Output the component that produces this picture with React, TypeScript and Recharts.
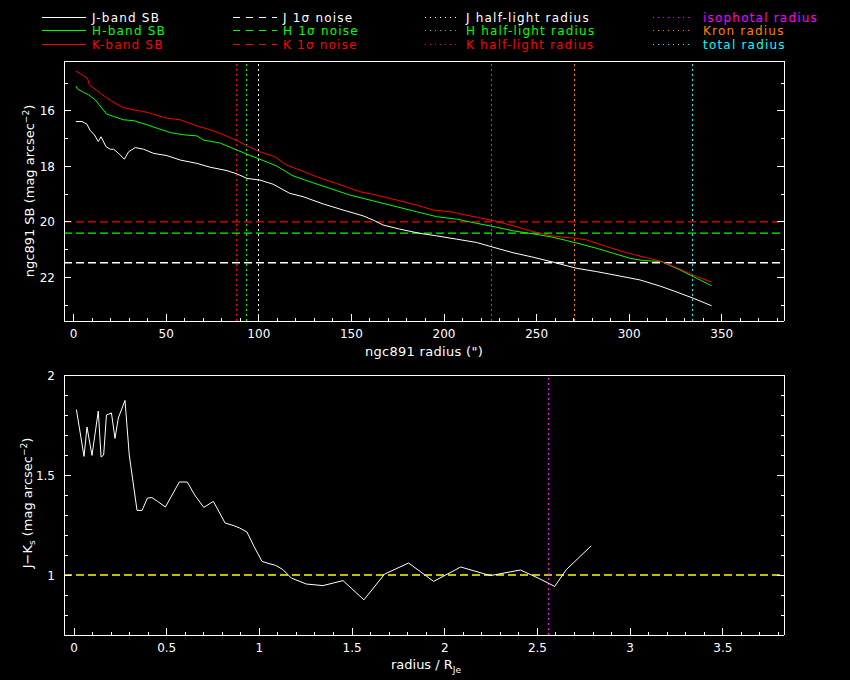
import React from "react";
import { LineChart, Line, XAxis, YAxis, ReferenceLine } from "recharts";

// J, H, K surface brightness profiles (radius in arcsec, mag/arcsec^2)
const jRadius = [1.2, 4.5, 7.2, 9, 11.2, 13.3, 14.8, 17.5, 19.8, 21.6, 24.3, 27.4, 29.7, 33.3, 37.8, 43.2, 50.4, 57.6, 66.6, 73.8, 82.8, 88.2, 93.6, 100.5, 107.7, 116.7, 123.9, 134.7, 145.5, 156.3, 161.7, 167.1, 176.1, 186.9, 195.9, 206.8, 217.6, 226.5, 237.3, 248.1, 258.9, 271.6, 282.4, 295, 305.8, 316.6, 323.8, 334.6, 344.5];
const jSB = [16.38, 16.38, 16.48, 16.71, 16.86, 17.1, 16.93, 17.29, 17.38, 17.38, 17.53, 17.74, 17.47, 17.32, 17.38, 17.53, 17.61, 17.77, 17.89, 18.03, 18.15, 18.27, 18.43, 18.49, 18.64, 18.97, 19.09, 19.35, 19.57, 19.78, 19.93, 20.11, 20.26, 20.41, 20.5, 20.62, 20.74, 20.91, 21.11, 21.27, 21.45, 21.67, 21.79, 21.95, 22.09, 22.31, 22.48, 22.75, 23.02];

const hRadius = [1.2, 2.1, 5.4, 8.1, 11.7, 15.3, 17.7, 21.6, 27, 32.4, 39.6, 45, 52.2, 59.4, 66.6, 70.2, 79.2, 88.2, 93.6, 100.5, 109.5, 118.5, 127.5, 138.3, 149.1, 161.7, 172.5, 185.1, 196, 206.8, 217.6, 228.4, 237.3, 248.1, 257.2, 266.2, 273.4, 282.4, 291.4, 300.4, 307.6, 317.5, 327.4, 336.4, 344.5];
const hSB = [15.1, 15.21, 15.33, 15.42, 15.6, 15.9, 16.11, 16.2, 16.32, 16.35, 16.5, 16.62, 16.78, 16.86, 16.9, 17.05, 17.16, 17.41, 17.56, 17.74, 17.98, 18.34, 18.55, 18.79, 19.03, 19.24, 19.42, 19.63, 19.81, 19.9, 20.05, 20.19, 20.32, 20.43, 20.53, 20.67, 20.79, 20.95, 21.13, 21.31, 21.39, 21.43, 21.73, 22.03, 22.3];

const kRadius = [1.2, 4.5, 6.6, 7.5, 8.5, 11.7, 14.4, 17.7, 21.6, 26.7, 32.4, 37.8, 43.2, 50.4, 57.6, 66.6, 73.8, 81, 88.2, 93.6, 100.5, 108.6, 114.9, 122.1, 131.1, 141.9, 154.5, 163.5, 174.3, 185.1, 194.1, 203.1, 213.9, 226.5, 237.3, 248.1, 257.2, 264.3, 271.6, 277, 287.8, 298.6, 309.4, 317.5, 327.4, 336.4, 344.5];
const kSB = [14.56, 14.7, 14.8, 14.82, 15.06, 15.22, 15.36, 15.52, 15.69, 15.88, 15.96, 16.02, 16.12, 16.26, 16.32, 16.54, 16.68, 16.86, 17.07, 17.26, 17.47, 17.65, 17.95, 18.13, 18.37, 18.61, 18.91, 19.03, 19.21, 19.39, 19.57, 19.63, 19.78, 19.95, 20.14, 20.35, 20.49, 20.55, 20.59, 20.65, 20.89, 21.11, 21.29, 21.43, 21.7, 21.97, 22.17];

// 1 sigma noise levels
const noiseJ = 21.47;
const noiseH = 20.4;
const noiseK = 20.0;

// characteristic radii (arcsec)
const halfLightJ = 99.6;
const halfLightH = 93.6;
const halfLightK = 88.2;
const isophotalRadius = 225.5;
const kronRadius = 270.3;
const totalRadius = 334;

// J-Ks colour profile vs radius / R_Je
const colourRadius = [0.013, 0.054, 0.07, 0.097, 0.131, 0.146, 0.16, 0.175, 0.202, 0.221, 0.239, 0.275, 0.298, 0.34, 0.367, 0.396, 0.42, 0.451, 0.493, 0.529, 0.568, 0.611, 0.651, 0.7, 0.752, 0.815, 0.858, 0.894, 0.933, 0.971, 1.014, 1.052, 1.088, 1.127, 1.172, 1.253, 1.343, 1.451, 1.564, 1.676, 1.805, 1.94, 2.086, 2.246, 2.408, 2.503, 2.593, 2.656, 2.79];
const colourJK = [1.827, 1.593, 1.74, 1.598, 1.82, 1.59, 1.6, 1.8, 1.81, 1.683, 1.785, 1.873, 1.6, 1.323, 1.323, 1.385, 1.387, 1.368, 1.34, 1.4, 1.465, 1.465, 1.4, 1.338, 1.368, 1.26, 1.248, 1.235, 1.215, 1.143, 1.068, 1.057, 1.048, 1.027, 0.985, 0.955, 0.947, 0.972, 0.876, 1.005, 1.06, 0.968, 1.04, 0.997, 1.025, 0.985, 0.943, 1.027, 1.146];
const colourRef = 1.0;
const isophotalRel = 2.56;

// axis ticks
const sbXTicks = Array.from({ length: 39 }, (_, i) => i * 10);
const sbYTicks = [15, 16, 17, 18, 19, 20, 21, 22, 23];
const colXTicks = Array.from({ length: 39 }, (_, i) => i / 10);
const colYTicks = [0.7, 0.8, 0.9, 1, 1.1, 1.2, 1.3, 1.4, 1.5, 1.6, 1.7, 1.8, 1.9, 2];

const WHITE = "#ffffff";
const GREEN = "#00ff00";
const RED = "#ff0000";
const MAGENTA = "#ff00ff";
const ORANGE = "#ff8000";
const CYAN = "#00ffff";
const YELLOW = "#ffff00";
const FONT = "'DejaVu Sans', sans-serif";

const toPoints = (xs: number[], ys: number[]) => xs.map((x, i) => ({ x, y: ys[i] }));

const jData = toPoints(jRadius, jSB);
const hData = toPoints(hRadius, hSB);
const kData = toPoints(kRadius, kSB);
const colourData = toPoints(colourRadius, colourJK);

type Side = "bottom" | "top" | "left" | "right";

// PGPLOT-style ticks: drawn inward, long for major, short for minor
function makeTick(side: Side, isMajor: (v: number) => boolean, fmt?: (v: number) => string) {
  return (props: any) => {
    const { x, y, payload } = props;
    const v = payload.value as number;
    const major = isMajor(v);
    const len = major ? 7 : 3.5;
    let line;
    if (side === "bottom") line = <line x1={x} y1={y} x2={x} y2={y - len} stroke={WHITE} shapeRendering="crispEdges" />;
    else if (side === "top") line = <line x1={x} y1={y} x2={x} y2={y + len} stroke={WHITE} shapeRendering="crispEdges" />;
    else if (side === "left") line = <line x1={x} y1={y} x2={x + len} y2={y} stroke={WHITE} shapeRendering="crispEdges" />;
    else line = <line x1={x} y1={y} x2={x - len} y2={y} stroke={WHITE} shapeRendering="crispEdges" />;
    let label = null;
    if (major && fmt) {
      if (side === "bottom")
        label = (
          <text x={x} y={y + 17} fill={WHITE} fontSize={12} fontFamily={FONT} textAnchor="middle">
            {fmt(v)}
          </text>
        );
      else if (side === "left")
        label = (
          <text x={x - 9} y={y + 4.5} fill={WHITE} fontSize={12} fontFamily={FONT} textAnchor="end">
            {fmt(v)}
          </text>
        );
    }
    return (
      <g>
        {line}
        {label}
      </g>
    );
  };
}

const near = (a: number, b: number) => Math.abs(a - b) < 1e-6;
const sbXMajor = (v: number) => near(v % 50, 0);
const sbYMajor = (v: number) => near(v % 2, 0);
const halfStep = (v: number) => near(v * 2, Math.round(v * 2));
const fmtNum = (v: number) => String(Math.round(v * 10) / 10);

const axisCommon = {
  axisLine: { stroke: WHITE, shapeRendering: "crispEdges" },
  tickLine: false,
  tickSize: 0,
  tickMargin: 0,
  interval: 0 as const,
  allowDataOverflow: true,
};

function SBPanel() {
  const xDomain: [number, number] = [-5.2, 383.6];
  const yDomain: [number, number] = [14.2, 23.57];
  return (
    <LineChart width={850} height={360} margin={{ top: 60, left: 63, right: 65, bottom: 38 }}>
      <XAxis {...axisCommon} xAxisId="b" dataKey="x" type="number" domain={xDomain} ticks={sbXTicks} height={1} tick={makeTick("bottom", sbXMajor, fmtNum)} />
      <XAxis {...axisCommon} xAxisId="t" orientation="top" type="number" domain={xDomain} ticks={sbXTicks} height={1} tick={makeTick("top", sbXMajor)} />
      <YAxis {...axisCommon} yAxisId="l" type="number" reversed domain={yDomain} ticks={sbYTicks} width={1} tick={makeTick("left", sbYMajor, fmtNum)} />
      <YAxis {...axisCommon} yAxisId="r" orientation="right" type="number" reversed domain={yDomain} ticks={sbYTicks} width={1} tick={makeTick("right", sbYMajor)} />

      <ReferenceLine xAxisId="b" yAxisId="l" y={noiseK} stroke={RED} strokeWidth={1.3} strokeDasharray="8 4" />
      <ReferenceLine xAxisId="b" yAxisId="l" y={noiseH} stroke={GREEN} strokeWidth={1.3} strokeDasharray="8 4" />
      <ReferenceLine xAxisId="b" yAxisId="l" y={noiseJ} stroke={WHITE} strokeWidth={1.3} strokeDasharray="8 4" />
      <ReferenceLine xAxisId="b" yAxisId="l" x={halfLightK} stroke={RED} strokeDasharray="2 3" shapeRendering="crispEdges" />
      <ReferenceLine xAxisId="b" yAxisId="l" x={halfLightH} stroke={GREEN} strokeDasharray="2 3" shapeRendering="crispEdges" />
      <ReferenceLine xAxisId="b" yAxisId="l" x={halfLightJ} stroke={WHITE} strokeDasharray="2 3" shapeRendering="crispEdges" />
      <ReferenceLine xAxisId="b" yAxisId="l" x={isophotalRadius} stroke={MAGENTA} strokeDasharray="2 3" shapeRendering="crispEdges" />
      <ReferenceLine xAxisId="b" yAxisId="l" x={kronRadius} stroke={ORANGE} strokeDasharray="2 3" shapeRendering="crispEdges" />
      <ReferenceLine xAxisId="b" yAxisId="l" x={totalRadius} stroke={CYAN} strokeDasharray="2 3" shapeRendering="crispEdges" />

      <Line xAxisId="b" yAxisId="l" data={jData} dataKey="y" stroke={WHITE} strokeWidth={1} dot={false} isAnimationActive={false} type="linear" />
      <Line xAxisId="b" yAxisId="l" data={hData} dataKey="y" stroke={GREEN} strokeWidth={1} dot={false} isAnimationActive={false} type="linear" />
      <Line xAxisId="b" yAxisId="l" data={kData} dataKey="y" stroke={RED} strokeWidth={1} dot={false} isAnimationActive={false} type="linear" />
    </LineChart>
  );
}

function ColourPanel() {
  const xDomain: [number, number] = [-0.054, 3.83];
  const yDomain: [number, number] = [0.7, 2.0];
  const yMajor = (v: number) => halfStep(v) && v >= 1;
  return (
    <LineChart width={850} height={340} margin={{ top: 34, left: 63, right: 65, bottom: 44 }}>
      <XAxis {...axisCommon} xAxisId="b" dataKey="x" type="number" domain={xDomain} ticks={colXTicks} height={1} tick={makeTick("bottom", halfStep, fmtNum)} />
      <XAxis {...axisCommon} xAxisId="t" orientation="top" type="number" domain={xDomain} ticks={colXTicks} height={1} tick={makeTick("top", halfStep)} />
      <YAxis {...axisCommon} yAxisId="l" type="number" domain={yDomain} ticks={colYTicks} width={1} tick={makeTick("left", yMajor, fmtNum)} />
      <YAxis {...axisCommon} yAxisId="r" orientation="right" type="number" domain={yDomain} ticks={colYTicks} width={1} tick={makeTick("right", yMajor)} />

      <ReferenceLine xAxisId="b" yAxisId="l" y={colourRef} stroke={YELLOW} strokeWidth={1.3} strokeDasharray="8 4" />
      <ReferenceLine xAxisId="b" yAxisId="l" x={isophotalRel} stroke={MAGENTA} strokeDasharray="2 3" shapeRendering="crispEdges" />

      <Line xAxisId="b" yAxisId="l" data={colourData} dataKey="y" stroke={WHITE} strokeWidth={1} dot={false} isAnimationActive={false} type="linear" />
    </LineChart>
  );
}

const legendCols = [
  { x0: 42, x1: 86, tx: 92, dash: undefined as string | undefined, items: [["J-band SB", WHITE], ["H-band SB", GREEN], ["K-band SB", RED]] },
  { x0: 233, x1: 277, tx: 283, dash: "7 6", items: [["J 1σ noise", WHITE], ["H 1σ noise", GREEN], ["K 1σ noise", RED]] },
  { x0: 425, x1: 457, tx: 466, dash: "1 4", items: [["J half-light radius", WHITE], ["H half-light radius", GREEN], ["K half-light radius", RED]] },
  { x0: 653, x1: 693, tx: 703, dash: "1 4", items: [["isophotal radius", MAGENTA], ["Kron radius", ORANGE], ["total radius", CYAN]] },
];
const legendRows = [17, 30.7, 44];

function Overlay() {
  return (
    <svg width={850} height={680} style={{ position: "absolute", left: 0, top: 0, pointerEvents: "none" }}>
      {legendCols.map((col, ci) =>
        col.items.map(([label, colour], ri) => (
          <g key={`${ci}-${ri}`}>
            <line x1={col.x0} y1={legendRows[ri]} x2={col.x1} y2={legendRows[ri]} stroke={colour} strokeDasharray={col.dash} shapeRendering="crispEdges" />
            <text x={col.tx} y={legendRows[ri] + 4.5} fill={colour} fontSize={12} letterSpacing={1.2} fontFamily={FONT}>
              {label}
            </text>
          </g>
        ))
      )}
      <text x={424} y={356} fill={WHITE} fontSize={13} letterSpacing={0.3} fontFamily={FONT} textAnchor="middle">
        ngc891 radius (")
      </text>
      <text x={0} y={0} transform="translate(34,191) rotate(-90)" fill={WHITE} fontSize={13} fontFamily={FONT} textAnchor="middle">
        ngc891 SB (mag arcsec<tspan dy={-5} fontSize={9}>−2</tspan>
        <tspan dy={5}>)</tspan>
      </text>
      <text x={426} y={669} fill={WHITE} fontSize={13} fontFamily={FONT} textAnchor="middle">
        radius / R<tspan dy={4} fontSize={9}>Je</tspan>
      </text>
      <text x={0} y={0} transform="translate(32,503) rotate(-90)" fill={WHITE} fontSize={13} fontFamily={FONT} textAnchor="middle">
        J−K<tspan dy={3} fontSize={9}>s</tspan>
        <tspan dy={-3}> (mag arcsec</tspan>
        <tspan dy={-5} fontSize={9}>−2</tspan>
        <tspan dy={5}>)</tspan>
      </text>
    </svg>
  );
}

export default function App() {
  return (
    <div style={{ position: "absolute", left: 0, top: 0, width: 850, height: 680, background: "#000", overflow: "hidden" }}>
      <div style={{ position: "absolute", left: 0, top: 0 }}>
        <SBPanel />
      </div>
      <div style={{ position: "absolute", left: 0, top: 340 }}>
        <ColourPanel />
      </div>
      <Overlay />
    </div>
  );
}
